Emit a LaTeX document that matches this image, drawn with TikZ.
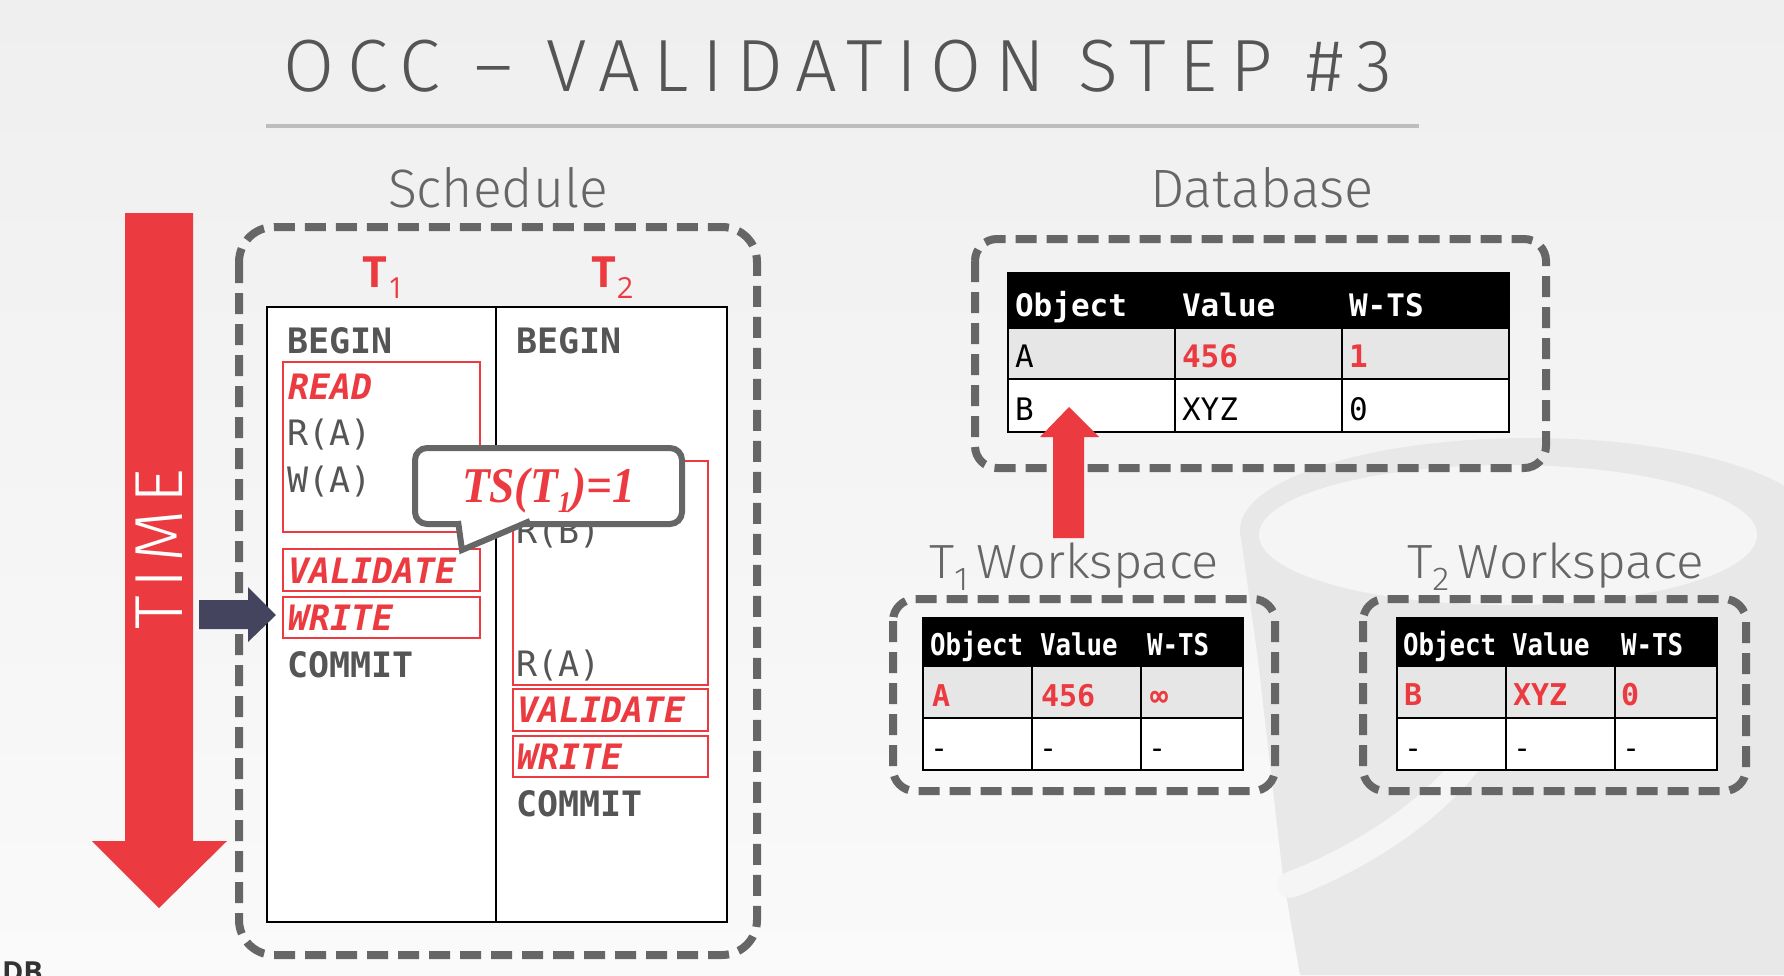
\documentclass[tikz,border=0pt]{standalone}
\usepackage{graphicx}
\usepackage{fontspec}
\setmainfont{Open Sans}
\IfFontExistsTF{Fira Sans Light}{%
  \newfontfamily\titlef[FakeStretch=0.84,LetterSpace=15]{Fira Sans Light}%
  \newfontfamily\headf{Fira Sans Light}%
  \newfontfamily\timef[LetterSpace=10]{Fira Sans Light}%
}{%
  \newfontfamily\titlef[FakeStretch=0.84,LetterSpace=15]{Fira Sans}%
  \newfontfamily\headf{Fira Sans}%
  \newfontfamily\timef[LetterSpace=10]{Fira Sans}%
}
\newfontfamily\sansf{Open Sans}
\newfontfamily\monof{DejaVu Sans Mono}
\newfontfamily\monoc[FakeStretch=0.86]{DejaVu Sans Mono}
\newfontfamily\seriff{Liberation Serif}
\newcommand{\fs}[1]{\fontsize{#1}{#1}\selectfont}
\newcommand{\fitw}[2]{\resizebox{#1}{\height}{#2}}
\definecolor{myred}{HTML}{EB3B40}
\definecolor{dashgray}{HTML}{666666}
\definecolor{txtgray}{HTML}{555555}
\definecolor{headgray}{HTML}{666666}
\definecolor{titlegray}{HTML}{555555}
\definecolor{navy}{HTML}{44445F}
\definecolor{rowgray}{HTML}{E6E6E6}
\definecolor{bgtop}{HTML}{EFEFEF}
\definecolor{bgbot}{HTML}{FAFAFA}
\definecolor{wm}{HTML}{E8E8E8}
\definecolor{wmhole}{HTML}{F5F5F5}
\definecolor{rulegray}{HTML}{BDBDBD}
\definecolor{dbtext}{HTML}{333333}
\tikzset{
  dbox/.style={draw=dashgray, line width=8pt, dash pattern=on 21pt off 10pt, rounded corners=22pt},
  redbox/.style={draw=myred, line width=2.5pt},
  tline/.style={draw=black, line width=2.7pt},
  lbl/.style={inner sep=0pt, outer sep=0pt, anchor=base west},
  sched/.style={lbl, text=txtgray, font=\monof\fs{35}},
  schedb/.style={lbl, text=txtgray, font=\monof\bfseries\fs{35}},
  schedr/.style={lbl, text=myred, font=\monof\bfseries\itshape\fs{35}},
  dbh/.style={lbl, text=white, font=\monof\bfseries\fs{31}},
  dbn/.style={lbl, text=black, font=\monof\fs{31}},
  dbr/.style={lbl, text=myred, font=\monof\bfseries\fs{31}},
  wsh/.style={lbl, text=white, font=\monoc\bfseries\fs{30}},
  wsr/.style={lbl, text=myred, font=\monof\bfseries\fs{30}},
  wsn/.style={lbl, text=black, font=\monof\fs{30}},
  callout/.style={draw=dashgray, line width=6pt, fill=white},
}
\begin{document}
\begin{tikzpicture}[x=1pt,y=-1pt]
\useasboundingbox (0,0) rectangle (1784,975);
% background
\shade[top color=bgtop, bottom color=bgbot] (0,0) rectangle (1784,975);
% watermark
\fill[wm] (1530,530) ellipse [x radius=290pt, y radius=92pt];
\fill[wm] (1240,530) -- (1258,660) -- (1283,877) -- (1300,975) -- (1784,975) -- (1784,530) -- cycle;
\fill[wmhole] (1508,535) ellipse [x radius=249pt, y radius=70pt];
\draw[wmhole, line width=26pt, line cap=round] (1290,885) .. controls (1380,850) and (1440,800) .. (1470,760);
% title
\node[lbl, text=titlegray] (title) at (283,91) {\fitw{1109pt}{\titlef\fs{74}OCC – VALIDATION STEP \#3}};
\draw[rulegray, line width=3.5pt] (266,126) -- (1419,126);
\node[lbl, anchor=base, text=headgray] (schedlab) at (498,207) {\fitw{220pt}{\headf\fs{54}Schedule}};
\node[lbl, anchor=base, text=headgray] (dblab) at (1262,207) {\fitw{224pt}{\headf\fs{54}Database}};
% time arrow
\fill[myred] (125,213) -- (193,213) -- (193,841) -- (227,841) -- (159,908) -- (92,841) -- (125,841) -- cycle;
\node[inner sep=0pt, rotate=90, text=white] (time) at (159.5,549) {\fitw{160pt}{\timef\fs{68}TIME}};
% schedule
\draw[dbox, rounded corners=35pt] (239,227) rectangle (757,955);
\node[lbl, text=myred] (t1lab) at (362,287) {\sansf\bfseries\fs{43}T\kern1pt\raisebox{-11pt}{\mdseries\fs{29}1}};
\node[lbl, text=myred] (t2lab) at (591,287) {\sansf\bfseries\fs{43}T\kern1pt\raisebox{-11pt}{\mdseries\fs{29}2}};
\draw[line width=2pt, fill=white] (267,307) rectangle (727,922);
\draw[line width=2pt] (496,307) -- (496,922);
% red boxes
\draw[redbox] (283,362) rectangle (480,532);
\draw[redbox] (283,549) rectangle (480,591);
\draw[redbox] (283,597) rectangle (480,638);
\draw[redbox] (513,461) rectangle (708,685);
\draw[redbox] (513,689) rectangle (708,731);
\draw[redbox] (513,736) rectangle (708,777);
% T1 column
\node[schedb] (b1) at (287,353) {BEGIN};
\node[schedr] (rd1) at (288,399) {READ};
\node[sched] (ra1) at (287,445) {R(A)};
\node[sched] (wa1) at (287,492) {W(A)};
\node[schedr] (v1) at (288,583) {VALIDATE};
\node[schedr] (w1) at (288,630) {WRITE};
\node[schedb] (c1) at (287,677) {COMMIT};
% T2 column
\node[schedb] (b2) at (516,353) {BEGIN};
\node[sched] (rb2) at (516,543) {R(B)};
\node[sched] (ra2) at (516,676) {R(A)};
\node[schedr] (v2) at (517,722) {VALIDATE};
\node[schedr] (w2) at (517,769) {WRITE};
\node[schedb] (c2) at (516,816) {COMMIT};
% callout
\draw[callout, rounded corners=12pt] (415,448) rectangle (682,524);
\path[fill=white, draw=dashgray, line width=6pt, line join=miter] (458,521) -- (462,550) -- (530,521);
\node[lbl, text=myred] (ts) at (462,502) {\fitw{173pt}{\seriff\bfseries\itshape\fs{50}TS(T\raisebox{-10pt}{\fs{30}1})=1}};
% dark arrow
\fill[navy] (199,600) -- (248,600) -- (248,587) -- (276,615) -- (248,642) -- (248,629) -- (199,629) -- cycle;
% database
\draw[dbox] (975,239) rectangle (1546,468);
\fill[black] (1008,273) rectangle (1509,328);
\fill[rowgray] (1008,328) rectangle (1509,379);
\fill[white] (1008,379) rectangle (1509,432);
\draw[tline] (1008,273) rectangle (1509,432);
\draw[tline] (1008,328) -- (1509,328) (1008,379) -- (1509,379) (1175,273) -- (1175,432) (1342,273) -- (1342,432);
\node[dbh] (dh1) at (1015,316) {Object};
\node[dbh] (dh2) at (1182,316) {Value};
\node[dbh] (dh3) at (1349,316) {W-TS};
\node[dbn] (da1) at (1015,367) {A};
\node[dbr] (da2) at (1182,367) {456};
\node[dbr] (da3) at (1349,367) {1};
\node[dbn] (db1) at (1015,420) {B};
\node[dbn] (db2) at (1182,420) {XYZ};
\node[dbn] (db3) at (1349,420) {0};
% up arrow
\fill[myred] (1053,538) -- (1053,437) -- (1040,437) -- (1069,407) -- (1099,437) -- (1084,437) -- (1084,538) -- cycle;
% workspace labels
\node[lbl, text=headgray] (ws1lab) at (929,578) {\fitw{290pt}{\headf\fs{48}T\raisebox{-12pt}{\fs{33}1}\hspace{8pt}Workspace}};
\node[lbl, text=headgray] (ws2lab) at (1407,578) {\fitw{297pt}{\headf\fs{48}T\raisebox{-12pt}{\fs{33}2}\hspace{8pt}Workspace}};
% T1 workspace
\draw[dbox] (893,599) rectangle (1275,791);
\fill[black] (923,618) rectangle (1243,666);
\fill[rowgray] (923,666) rectangle (1243,718);
\fill[white] (923,718) rectangle (1243,770);
\draw[tline] (923,618) rectangle (1243,770);
\draw[tline] (923,666) -- (1243,666) (923,718) -- (1243,718) (1032,666) -- (1032,770) (1141,666) -- (1141,770);
\node[wsh] (w1h1) at (930,655) {Object};
\node[wsh] (w1h2) at (1040,655) {Value};
\node[wsh] (w1h3) at (1147,655) {W-TS};
\node[wsr] (w1a1) at (932,706) {A};
\node[wsr] (w1a2) at (1041,706) {456};
\node[wsr] (w1a3) at (1150,706) {∞};
\node[wsn] (w1b1) at (930,758) {-};
\node[wsn] (w1b2) at (1039,758) {-};
\node[wsn] (w1b3) at (1148,758) {-};
% T2 workspace
\draw[dbox] (1363,599) rectangle (1746,791);
\fill[black] (1397,618) rectangle (1717,666);
\fill[rowgray] (1397,666) rectangle (1717,718);
\fill[white] (1397,718) rectangle (1717,770);
\draw[tline] (1397,618) rectangle (1717,770);
\draw[tline] (1397,666) -- (1717,666) (1397,718) -- (1717,718) (1506,666) -- (1506,770) (1615,666) -- (1615,770);
\node[wsh] (w2h1) at (1403,655) {Object};
\node[wsh] (w2h2) at (1512,655) {Value};
\node[wsh] (w2h3) at (1621,655) {W-TS};
\node[wsr] (w2a1) at (1404,705) {B};
\node[wsr] (w2a2) at (1513,705) {XYZ};
\node[wsr] (w2a3) at (1621,705) {0};
\node[wsn] (w2b1) at (1404,758) {-};
\node[wsn] (w2b2) at (1513,758) {-};
\node[wsn] (w2b3) at (1622,758) {-};
% logo fragment
\node[lbl, text=dbtext] (logo) at (2,982) {\sansf\bfseries\fs{29}DB};
\end{tikzpicture}
\end{document}
